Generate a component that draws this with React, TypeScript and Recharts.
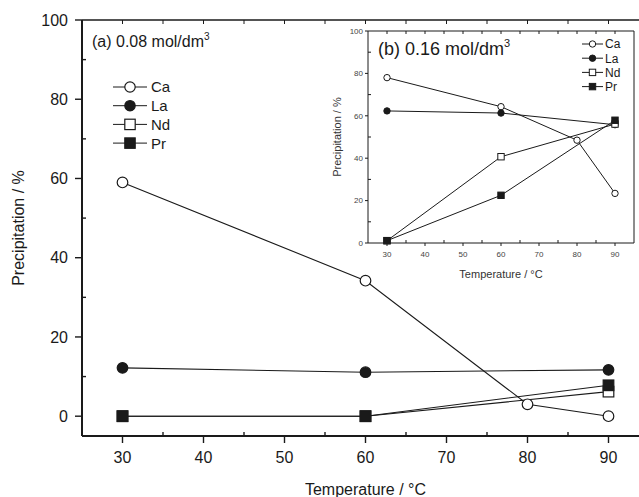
import React from 'react';
import { LineChart, Line, XAxis, YAxis } from 'recharts';

const temps = [30, 60, 80, 90];

// (a) 0.08 mol/dm3
const caA = [59, 34.2, 3, 0];
const laA = [12.2, 11.1, null, 11.7];
const ndA = [0, 0, null, 6.2];
const prA = [0, 0, null, 7.8];

// (b) 0.16 mol/dm3 (inset)
const caB = [78, 64.3, 48.5, 23.4];
const laB = [62.3, 61.3, null, 55.8];
const ndB = [1.1, 40.7, null, 56.1];
const prB = [1.1, 22.5, null, 57.9];

const xMajor = [30, 40, 50, 60, 70, 80, 90];
const xAll = [30, 35, 40, 45, 50, 55, 60, 65, 70, 75, 80, 85, 90];
const yMajor = [0, 20, 40, 60, 80, 100];
const yAll = [0, 10, 20, 30, 40, 50, 60, 70, 80, 90, 100];

const series = [
  { key: 'ca', name: 'Ca', shape: 'circle', filled: false },
  { key: 'la', name: 'La', shape: 'circle', filled: true },
  { key: 'nd', name: 'Nd', shape: 'square', filled: false },
  { key: 'pr', name: 'Pr', shape: 'square', filled: true },
];

const rowsA = temps.map((t, i) => ({ t, ca: caA[i], la: laA[i], nd: ndA[i], pr: prA[i] }));
const rowsB = temps.map((t, i) => ({ t, ca: caB[i], la: laB[i], nd: ndB[i], pr: prB[i] }));

const INK = '#1a1a1a';
const GREY = '#444';
const FONT = '"Liberation Sans", Arial, Helvetica, sans-serif';
const blank = () => '';

function Marker({ cx, cy, shape, filled, size, sw }: any) {
  const fill = filled ? INK : '#fff';
  if (shape === 'circle') {
    return <circle cx={cx} cy={cy} r={size} fill={fill} stroke={INK} strokeWidth={sw} />;
  }
  return (
    <rect x={cx - size} y={cy - size} width={size * 2} height={size * 2} fill={fill} stroke={INK} strokeWidth={sw} />
  );
}

const makeDot = (s: any, size: number, sw: number) => (p: any) => {
  if (p.cx == null || p.cy == null || p.payload == null || p.payload[s.key] == null) {
    return <g key={`e-${p.index}`} />;
  }
  return <Marker key={`d-${p.index}`} cx={p.cx} cy={p.cy} shape={s.shape} filled={s.filled} size={size} sw={sw} />;
};

// bottom axis tick: major ticks point out with a label, minor ticks point in
const bottomTick = (o: any) => (p: any) => {
  const v = p.payload.value;
  const ay = p.y - o.size - o.margin;
  if (!xMajor.includes(v)) {
    return <line x1={p.x} x2={p.x} y1={ay} y2={ay - o.minor} stroke={INK} strokeWidth={o.lw} />;
  }
  return (
    <g>
      <line x1={p.x} x2={p.x} y1={ay} y2={ay + o.size} stroke={INK} strokeWidth={o.lw} />
      <text x={p.x} y={p.y} dy="0.71em" textAnchor="middle" fontSize={o.fontSize} fill={o.fill}>{v}</text>
    </g>
  );
};

const leftTick = (o: any) => (p: any) => {
  const v = p.payload.value;
  const ax = p.x + o.size + o.margin;
  if (!yMajor.includes(v)) {
    return <line x1={ax} x2={ax + o.minor} y1={p.y} y2={p.y} stroke={INK} strokeWidth={o.lw} />;
  }
  return (
    <g>
      <line x1={ax} x2={ax - o.size} y1={p.y} y2={p.y} stroke={INK} strokeWidth={o.lw} />
      <text x={p.x} y={p.y} dy="0.355em" textAnchor="end" fontSize={o.fontSize} fill={o.fill}>{v}</text>
    </g>
  );
};

function LegendBlock({ x0, x1, y0, gap, size, sw, fontSize, textX }: any) {
  const mid = (x0 + x1) / 2;
  return (
    <g>
      {series.map((s, i) => {
        const y = y0 + i * gap;
        return (
          <g key={s.key}>
            <line x1={x0} x2={x1} y1={y} y2={y} stroke={INK} strokeWidth={1} />
            <Marker cx={mid} cy={y} shape={s.shape} filled={s.filled} size={size} sw={sw} />
            <text x={textX} y={y + fontSize * 0.36} fontSize={fontSize} fill={INK}>
              {s.name}
            </text>
          </g>
        );
      })}
    </g>
  );
}

const mainX = { size: 7, margin: 9, minor: 4, lw: 1.4, fontSize: 16, fill: INK };
const mainY = { size: 7, margin: 7, minor: 4, lw: 1.4, fontSize: 16, fill: INK };
const insetX = { size: 3, margin: 5, minor: 3, lw: 1, fontSize: 8, fill: GREY };
const insetY = { size: 3, margin: 2, minor: 3, lw: 1, fontSize: 8, fill: GREY };

export default function App() {
  return (
    <div
      style={{
        position: 'absolute',
        left: 0,
        top: 0,
        width: 639,
        height: 497,
        overflow: 'hidden',
        background: '#fff',
        fontFamily: FONT,
      }}
    >
      {/* main chart, its right frame falls outside the crop */}
      <div style={{ position: 'absolute', left: 0, top: 0 }}>
        <LineChart width={659} height={497} data={rowsA} margin={{ top: 20, right: 10, bottom: 0, left: 0 }}>
          <XAxis xAxisId="top" orientation="top" dataKey="t" type="number" domain={[25, 95]} ticks={xAll}
            interval={0} mirror tickSize={4} tickFormatter={blank} height={1} stroke={INK}
            axisLine={{ strokeWidth: 1.6 }} />
          <XAxis dataKey="t" type="number" domain={[25, 95]} ticks={xAll} interval={0}
            tickSize={mainX.size} tickMargin={mainX.margin} height={61} stroke={INK}
            axisLine={{ strokeWidth: 2 }} tickLine={false} tick={bottomTick(mainX)}
            label={{ value: 'Temperature / °C', position: 'insideTop', offset: 48, fill: INK, fontSize: 16 }} />
          <YAxis type="number" domain={[-5, 100]} ticks={yAll} interval={0}
            tickSize={mainY.size} tickMargin={mainY.margin} width={82} stroke={INK}
            axisLine={{ strokeWidth: 2 }} tickLine={false} tick={leftTick(mainY)}
            label={{ value: 'Precipitation / %', angle: -90, position: 'insideLeft', offset: 18, fill: INK,
              fontSize: 16, style: { textAnchor: 'middle' } }} />
          {series.map((s) => (
            <Line key={s.key} dataKey={s.key} type="linear" stroke={INK} strokeWidth={1.1}
              connectNulls isAnimationActive={false} dot={makeDot(s, 5.3, 1.2)} activeDot={false} />
          ))}
        </LineChart>
      </div>

      {/* inset (b) */}
      <div style={{ position: 'absolute', left: 0, top: 0 }}>
        <LineChart width={639} height={497} data={rowsB} margin={{ top: 31, right: 5, bottom: 0, left: 0 }}>
          <XAxis xAxisId="top" orientation="top" dataKey="t" type="number" domain={[25, 95]} ticks={xAll}
            interval={0} mirror tickSize={3} tickFormatter={blank} height={1} stroke={INK} />
          <XAxis dataKey="t" type="number" domain={[25, 95]} ticks={xAll} interval={0}
            tickSize={insetX.size} tickMargin={insetX.margin} height={254} stroke={INK}
            tickLine={false} tick={bottomTick(insetX)}
            label={{ value: 'Temperature / °C', position: 'insideTop', offset: 27, fill: '#333', fontSize: 11 }} />
          <YAxis yAxisId="right" orientation="right" type="number" domain={[0, 100]} ticks={yAll}
            interval={0} mirror tickSize={3} tickFormatter={blank} width={1} stroke={INK} />
          <YAxis type="number" domain={[0, 100]} ticks={yAll} interval={0}
            tickSize={insetY.size} tickMargin={insetY.margin} width={368} stroke={INK}
            tickLine={false} tick={leftTick(insetY)}
            label={{ value: 'Precipitation / %', angle: -90, position: 'insideLeft', offset: 337, fill: '#333',
              fontSize: 11, style: { textAnchor: 'middle' } }} />
          {series.map((s) => (
            <Line key={s.key} dataKey={s.key} type="linear" stroke={INK} strokeWidth={1}
              connectNulls isAnimationActive={false} dot={makeDot(s, 3.2, 1)} activeDot={false} />
          ))}
        </LineChart>
      </div>

      {/* panel labels and legends */}
      <svg width={639} height={497} style={{ position: 'absolute', left: 0, top: 0, pointerEvents: 'none' }}>
        <text x={92} y={47} fontSize={16} fill={INK}>
          (a) 0.08 mol/dm<tspan dy={-7} fontSize={10}>3</tspan>
        </text>
        <text x={378} y={55} fontSize={18} fill={INK}>
          (b) 0.16 mol/dm<tspan dy={-8} fontSize={11}>3</tspan>
        </text>
        <LegendBlock x0={113} x1={147} y0={87} gap={18.7} size={5.2} sw={1.2} fontSize={15} textX={151} />
        <LegendBlock x0={582} x1={603} y0={44} gap={14.2} size={3.2} sw={1} fontSize={12} textX={605} />
      </svg>
    </div>
  );
}
